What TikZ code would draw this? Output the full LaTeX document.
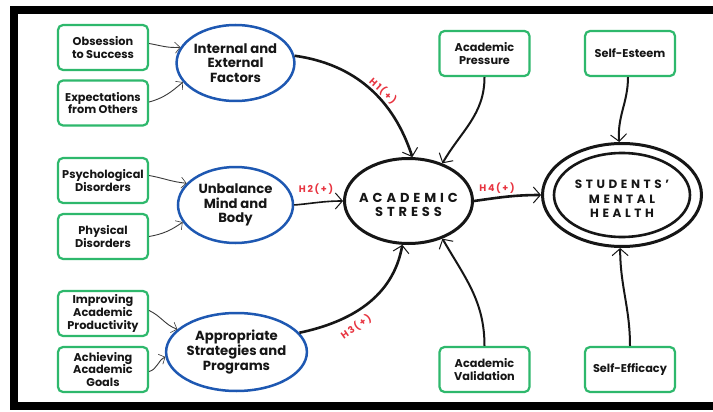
\documentclass[tikz,border=0pt]{standalone}
\usepackage{fontspec}
\setmainfont{Poppins}
\usetikzlibrary{shapes.geometric,arrows.meta}
\definecolor{boxgreen}{RGB}{46,184,108}
\definecolor{ovalblue}{RGB}{30,88,178}
\definecolor{hypred}{RGB}{232,52,64}
\definecolor{ink}{RGB}{22,22,22}
\tikzset{
  gbox/.style={draw=boxgreen, line width=2.2pt, rounded corners=5pt,
    minimum width=90pt, minimum height=45pt, inner sep=0pt, align=center,
    text=ink, font=\fontsize{11.3}{12.6}\selectfont\bfseries},
  boval/.style={ellipse, draw=ovalblue, line width=2.5pt,
    minimum width=115pt, minimum height=76pt, inner sep=0pt, align=center,
    text=ink, font=\fontsize{13.2}{14.8}\selectfont\bfseries},
  koval/.style={ellipse, draw=ink, line width=3pt, inner sep=0pt},
  capstext/.style={align=center, text=ink, inner sep=0pt,
    font=\fontsize{#1}{14.3}\selectfont\bfseries\addfontfeatures{LetterSpace=30}},
  thin/.style={draw=ink!85, line width=0.9pt,
    -{Straight Barb[length=5pt,width=11pt,line width=0.6pt]}},
  thick/.style={draw=ink, line width=2.6pt,
    -{Straight Barb[length=7pt,width=16pt,line width=1pt]}},
  hyp/.style={text=hypred, inner sep=0pt,
    font=\fontsize{9.5}{10}\selectfont\bfseries\addfontfeatures{LetterSpace=18}},
}
\begin{document}
\begin{tikzpicture}[x=1pt,y=1pt]
\useasboundingbox (0,0) rectangle (713,-412);
\fill[white] (0,0) rectangle (713,-412);
% frame, open on the right
\draw[line width=8pt, line join=miter] (720,-10) -- (13.7,-10) -- (13.7,-406) -- (720,-406);

% left column of factors
\node[gbox] (obs) at (103,-47.5) {Obsession\\to Success};
\node[gbox] (exp) at (103,-103) {Expectations\\from Others};
\node[gbox] (psy) at (103,-180.5) {Psychological\\Disorders};
\node[gbox] (phy) at (103,-236.5) {Physical\\Disorders};
\node[gbox] (imp) at (103,-313.5) {Improving\\Academic\\Productivity};
\node[gbox] (ach) at (103,-369.5) {Achieving\\Academic\\Goals};

% constructs
\node[boval] (int) at (235.5,-63) {Internal and\\External\\Factors};
\node[boval] (unb) at (235.5,-205) {Unbalance\\Mind and\\Body};
\node[boval, minimum height=78pt] (app) at (236.5,-352) {Appropriate\\Strategies and\\Programs};

% moderators
\node[gbox] (pre) at (484.5,-53.5) {Academic\\Pressure};
\node[gbox] (val) at (484.5,-369.5) {Academic\\Validation};
\node[gbox] (est) at (630,-53.5) {Self-Esteem};
\node[gbox] (eff) at (630,-369.5) {Self-Efficacy};

% central variables (outline and caption drawn separately)
\node[koval, minimum width=128pt, minimum height=85pt] (str) at (408.5,-201) {};
\node[capstext=13] (strl) at ([yshift=-4pt]str.center) {ACADEMIC\\STRESS};
\node[koval, minimum width=159pt, minimum height=103pt] (smh) at (622,-195) {};
\draw[ink, line width=2.6pt] (smh.center) ellipse [x radius=68pt, y radius=42pt];
\node[capstext=12] (smhl) at ([yshift=-4pt]smh.center) {STUDENTS'\\MENTAL\\HEALTH};

% indicators to constructs
\draw[thin] ([yshift=4pt]obs.east) to[out=-10,in=185] (int.164);
\draw[thin] ([yshift=1pt]exp.east) to[out=15,in=220] (int.200);
\draw[thin] ([yshift=5pt]psy.east) to[out=-10,in=175] (unb.156);
\draw[thin] (phy.east) to[out=10,in=215] (unb.198);
\draw[thin] ([yshift=3pt]imp.east) to[out=-25,in=160] (app.159);
\draw[thin] ([yshift=-2pt]ach.east) to[out=15,in=205] (app.184);

% hypotheses
\draw[thick] (int.7) to[out=-8,in=108] (str.85);
\draw[thick, line width=1.6pt] (unb.east) to[out=5,in=180] (str.west);
\draw[thick] (app.17) to[out=12,in=-100] (str.262);
\draw[thick] (str.east) to[out=8,in=180] (smh.west);

% moderating links
\draw[thick, line width=2pt] (pre.south) to[out=-90,in=60] (str.48);
\draw[thick, line width=2pt] (val.north) to[out=90,in=-60] (str.-48);
\draw[thick, line width=2pt] ([xshift=-2pt]est.south) to[out=-90,in=95] (smh.93);
\draw[thick, line width=2pt] (eff.north) to[out=90,in=-90] (smh.-92);

% hypothesis labels
\node[hyp, rotate=-42] (h1) at (383,-91) {H1(+)};
\node[hyp] (h2) at (316,-189) {H2(+)};
\node[hyp, rotate=35] (h3) at (356,-327) {H3(+)};
\node[hyp] (h4) at (497,-188) {H4(+)};
\end{tikzpicture}
\end{document}
